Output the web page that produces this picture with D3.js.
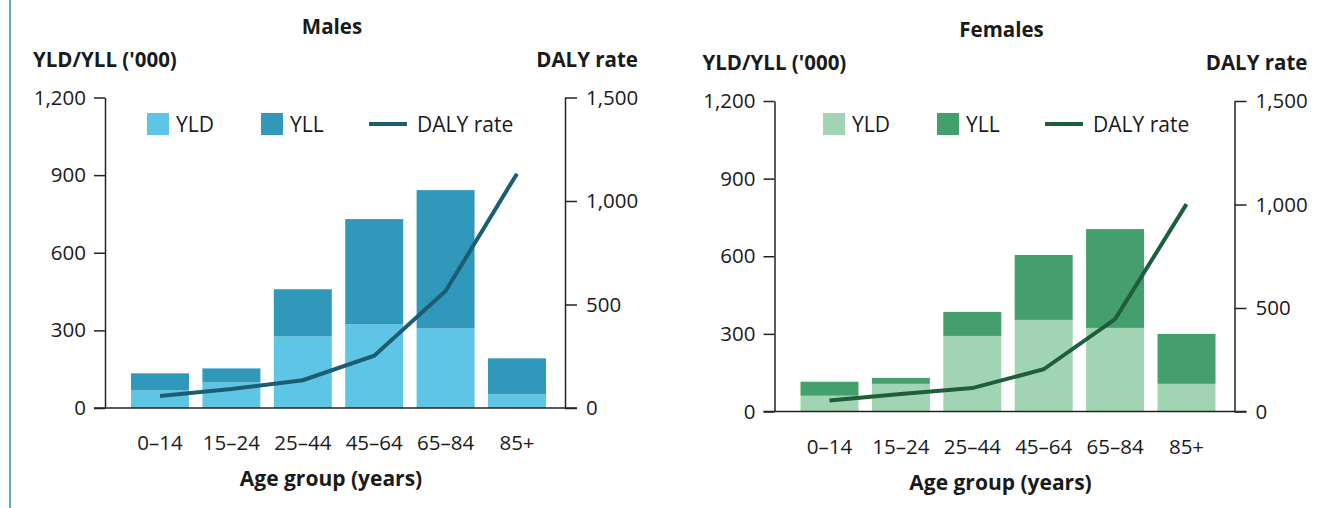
<!DOCTYPE html>
<html>
<head>
<meta charset="utf-8">
<script src="https://cdn.jsdelivr.net/npm/d3@7"></script>
<style>
  body { margin: 0; background: #fff; }
  svg text { font-family: "Open Sans", sans-serif; fill: #1a1a1a; }
</style>
</head>
<body>
<svg id="chart"></svg>
<script>
// data ('000 for YLD/YLL, rate for DALY)
const ageGroups = ['0–14', '15–24', '25–44', '45–64', '65–84', '85+'];
const maleYLD = [68, 99, 277, 324, 308, 53];
const maleYLL = [66, 54, 182, 406, 534, 139];
const maleDALY = [58, 92, 134, 253, 565, 1132];
const femaleYLD = [61, 107, 292, 354, 323, 107];
const femaleYLL = [54, 23, 93, 251, 382, 193];
const femaleDALY = [53, 84, 113, 204, 446, 1002];
const leftTicks = [0, 300, 600, 900, 1200];
const rightTicks = [0, 500, 1000, 1500];

const size = {w: 1317, h: 508};
const svg = d3.select('#chart').attr('width', size.w).attr('height', size.h);

// left accent line
svg.append('line')
    .attr('x1', 10).attr('x2', 10).attr('y1', 0).attr('y2', size.h)
    .attr('stroke', '#2b8fa9').attr('stroke-width', 1.5);

drawPanel({
    title: 'Males', x0: 105, y0: 97.5, legendX: 147,
    yld: maleYLD, yll: maleYLL, daly: maleDALY,
    colors: {yld: '#5fc5e6', yll: '#3099bb', line: '#1c5d72'}
});
drawPanel({
    title: 'Females', x0: 774.5, y0: 101, legendX: 823,
    yld: femaleYLD, yll: femaleYLL, daly: femaleDALY,
    colors: {yld: '#a0d4b2', yll: '#43a06d', line: '#1e5e3b'}
});

function drawPanel(p) {
    const w = 460, h = 310.5;
    const g = svg.append('g').attr('transform', `translate(${p.x0},${p.y0})`);

    const x = d3.scaleBand().domain(ageGroups).range([19.3, 447.7]).paddingInner(0.188).paddingOuter(0.094);
    const y = d3.scaleLinear().domain([0, 1200]).range([h, 0]);
    const y2 = d3.scaleLinear().domain([0, 1500]).range([h, 0]);

    // stacked bars
    const rows = ageGroups.map((a, i) => ({age: a, yld: p.yld[i], yll: p.yll[i]}));
    const stack = d3.stack().keys(['yld', 'yll'])(rows);
    g.selectAll('g.layer')
        .data(stack)
        .enter()
        .append('g')
        .attr('fill', d => p.colors[d.key])
        .selectAll('rect')
        .data(d => d)
        .enter()
        .append('rect')
        .attr('x', d => x(d.data.age))
        .attr('width', x.bandwidth())
        .attr('y', d => y(d[1]))
        .attr('height', d => y(d[0]) - y(d[1]));

    // DALY line
    const line = d3.line()
        .x((d, i) => x(ageGroups[i]) + x.bandwidth() / 2)
        .y(d => y2(d));
    g.append('path')
        .datum(p.daly)
        .attr('d', line)
        .attr('fill', 'none')
        .attr('stroke', p.colors.line)
        .attr('stroke-width', 4);

    // axes
    const left = g.append('g')
        .call(d3.axisLeft(y).tickValues(leftTicks).tickSize(11).tickSizeOuter(0).tickPadding(8).tickFormat(d3.format(',')));
    const right = g.append('g').attr('transform', `translate(${w},0)`)
        .call(d3.axisRight(y2).tickValues(rightTicks).tickSize(12).tickSizeOuter(0).tickPadding(9).tickFormat(d3.format(',')));
    [left, right].forEach(a => {
        a.selectAll('path, line').attr('stroke', '#222').attr('stroke-width', 1.5);
        a.selectAll('text').style('font-size', '20.5px').attr('fill', '#1a1a1a');
    });
    g.append('line')
        .attr('x1', -11).attr('x2', w + 12).attr('y1', h).attr('y2', h)
        .attr('stroke', '#222').attr('stroke-width', 1.5);

    // x tick labels
    g.selectAll('text.xlab')
        .data(ageGroups)
        .enter()
        .append('text')
        .attr('x', d => x(d) + x.bandwidth() / 2)
        .attr('y', h + 42)
        .attr('text-anchor', 'middle')
        .style('font-size', '20.5px')
        .text(d => d);

    // titles
    g.append('text').attr('x', w / 2 - 3).attr('y', -64).attr('text-anchor', 'middle')
        .style('font-size', '20.5px').style('font-weight', 'bold').text(p.title);
    g.append('text').attr('x', -72).attr('y', -31)
        .style('font-size', '20.5px').style('font-weight', 'bold').text("YLD/YLL ('000)");
    g.append('text').attr('x', w + 73).attr('y', -31).attr('text-anchor', 'end')
        .style('font-size', '20.5px').style('font-weight', 'bold').text('DALY rate');
    g.append('text').attr('x', w / 2 - 4).attr('y', h + 78).attr('text-anchor', 'middle')
        .style('font-size', '21px').style('font-weight', 'bold').text('Age group (years)');

    // legend
    const lg = svg.append('g').attr('transform', `translate(${p.legendX},113)`);
    lg.append('rect').attr('width', 22).attr('height', 22).attr('fill', p.colors.yld);
    lg.append('text').attr('x', 29).attr('y', 18.5).style('font-size', '21px').text('YLD');
    lg.append('rect').attr('x', 114).attr('width', 22).attr('height', 22).attr('fill', p.colors.yll);
    lg.append('text').attr('x', 143).attr('y', 18.5).style('font-size', '21px').text('YLL');
    lg.append('line').attr('x1', 222).attr('x2', 260).attr('y1', 11).attr('y2', 11)
        .attr('stroke', p.colors.line).attr('stroke-width', 4);
    lg.append('text').attr('x', 270).attr('y', 18.5).style('font-size', '21px').text('DALY rate');
}
</script>
</body>
</html>
